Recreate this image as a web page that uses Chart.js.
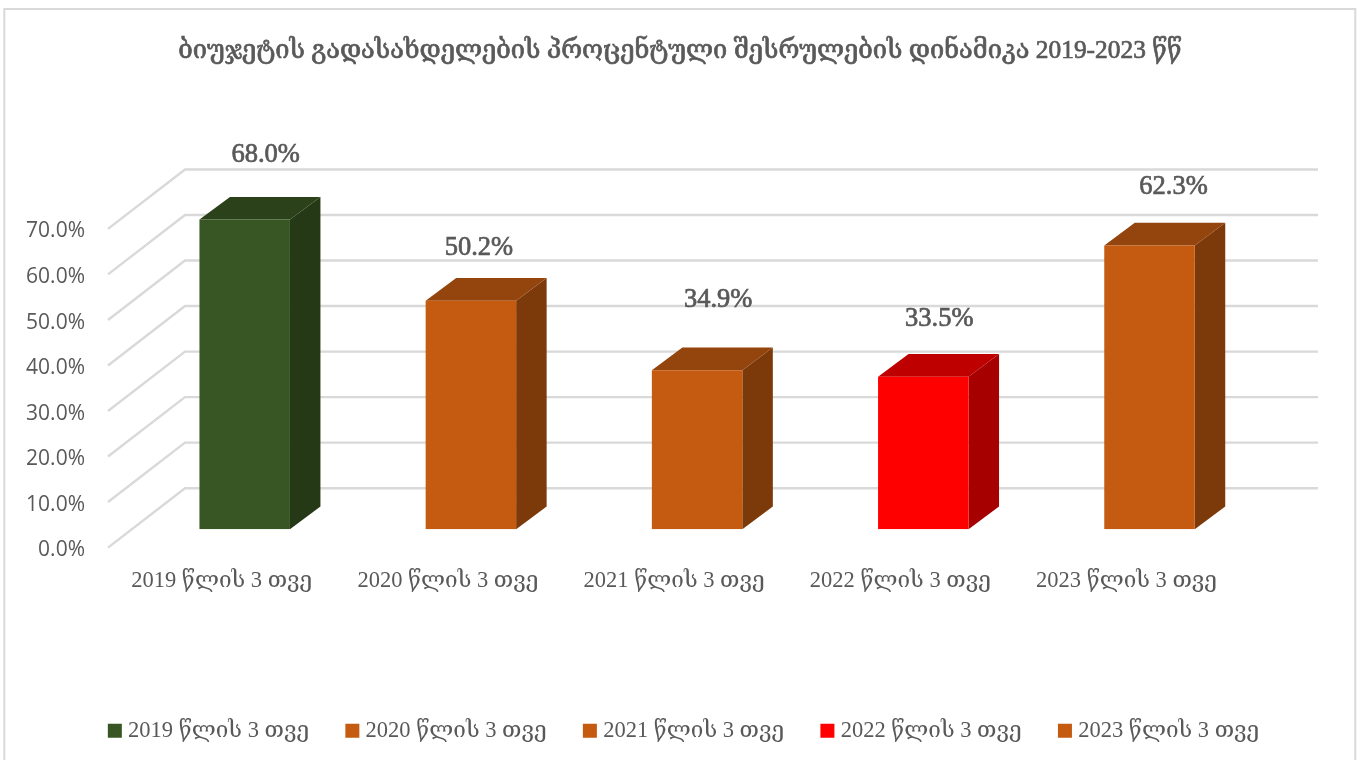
<!DOCTYPE html>
<html>
<head>
<meta charset="utf-8">
<script src="https://cdn.jsdelivr.net/npm/chart.js@4"></script>
<style>
  html, body { margin: 0; padding: 0; background: #fff; }
  #wrap { width: 1360px; height: 760px; position: relative; }
</style>
</head>
<body>
<div id="wrap"><canvas id="chart" width="1360" height="760"></canvas></div>
<script>
const titleText = 'ბიუჯეტის გადასახდელების პროცენტული შესრულების დინამიკა 2019-2023 წწ';
const categories = ['2019 წლის 3 თვე', '2020 წლის 3 თვე', '2021 წლის 3 თვე', '2022 წლის 3 თვე', '2023 წლის 3 თვე'];
const values = [68.0, 50.2, 34.9, 33.5, 62.3];
const frontColors = ['#375623', '#C55A11', '#C55A11', '#FF0000', '#C55A11'];
const topColors = ['#2A4119', '#94440D', '#94440D', '#BF0000', '#94440D'];
const sideColors = ['#253917', '#7C3A0B', '#7C3A0B', '#A60000', '#7C3A0B'];
// hand placed data labels, offset from the front top corner centre
const labelNudgeX = [21, 8, 21, 16, 24];
const labelNudgeY = [-65, -53, -70, -58, -58];

const textColor = '#595959';
const gridColor = '#D9D9D9';
const serif = '"Liberation Serif", "DejaVu Serif", serif';
const titleSize = 25.4;
const titlePadTop = 36;

// fake 3d look: bars sit between the front edge and the back wall
const barDepth = { x: 30.5, y: -22.7 };
const wallBack = { x: 53.4, y: -41 };
const wallFront = { x: -23.6, y: 18.4 };
const wallRight = 1318;

const box3d = {
  id: 'box3d',
  afterLayout(chart) {
    // legend sits a little right of centre in the original
    chart.legend.left += 6;
    chart.legend.right += 6;
  },
  beforeDatasetsDraw(chart) {
    const { ctx, scales: { y } } = chart;
    ctx.save();
    ctx.strokeStyle = gridColor;
    ctx.lineWidth = 2.4;
    y.ticks.forEach(t => {
      const py = y.getPixelForValue(t.value);
      const left = chart.chartArea.left;
      ctx.beginPath();
      ctx.moveTo(left + wallFront.x, py + wallFront.y);
      ctx.lineTo(left + wallBack.x, py + wallBack.y);
      ctx.lineTo(wallRight, py + wallBack.y);
      ctx.stroke();
    });
    ctx.restore();

    // side and top faces of the bars
    chart.getDatasetMeta(0).data.forEach((bar, i) => {
      const l = bar.x - bar.width / 2, r = bar.x + bar.width / 2;
      const t = bar.y, b = bar.base;
      ctx.fillStyle = sideColors[i];
      ctx.beginPath();
      ctx.moveTo(r, t);
      ctx.lineTo(r + barDepth.x, t + barDepth.y);
      ctx.lineTo(r + barDepth.x, b + barDepth.y);
      ctx.lineTo(r, b);
      ctx.closePath();
      ctx.fill();
      ctx.fillStyle = topColors[i];
      ctx.beginPath();
      ctx.moveTo(l, t);
      ctx.lineTo(l + barDepth.x, t + barDepth.y);
      ctx.lineTo(r + barDepth.x, t + barDepth.y);
      ctx.lineTo(r, t);
      ctx.closePath();
      ctx.fill();
    });
  },
  afterDatasetsDraw(chart) {
    const { ctx } = chart;
    ctx.save();
    ctx.fillStyle = textColor;
    ctx.strokeStyle = textColor;
    ctx.lineWidth = 0.7;
    ctx.font = '26.5px ' + serif;
    ctx.textAlign = 'center';
    ctx.textBaseline = 'middle';
    chart.getDatasetMeta(0).data.forEach((bar, i) => {
      const label = values[i].toFixed(1) + '%';
      ctx.fillText(label, bar.x + labelNudgeX[i], bar.y + labelNudgeY[i]);
      ctx.strokeText(label, bar.x + labelNudgeX[i], bar.y + labelNudgeY[i]);
    });
    ctx.restore();
  },
  afterDraw(chart) {
    const { ctx, titleBlock } = chart;
    ctx.save();
    // thicken the title a bit, the normal weight is too light and bold too wide
    ctx.strokeStyle = textColor;
    ctx.lineWidth = 0.7;
    ctx.font = titleSize + 'px ' + serif;
    ctx.textAlign = 'center';
    ctx.textBaseline = 'middle';
    ctx.strokeText(titleText, (titleBlock.left + titleBlock.right) / 2, titleBlock.top + titlePadTop + titleSize * 1.2 / 2);

    ctx.strokeStyle = gridColor;
    ctx.lineWidth = 2;
    ctx.strokeRect(4.3, 9, 1351, 760);
    ctx.restore();
  }
};

new Chart(document.getElementById('chart'), {
  type: 'bar',
  data: {
    labels: categories,
    datasets: [{
      data: values,
      backgroundColor: frontColors,
      categoryPercentage: 1,
      barPercentage: 0.4
    }]
  },
  options: {
    responsive: false,
    animation: false,
    layout: { padding: { bottom: 8 } },
    plugins: {
      tooltip: { enabled: false },
      title: {
        display: true,
        text: titleText,
        color: textColor,
        font: { family: serif, size: titleSize, weight: 'normal' },
        padding: { top: titlePadTop, bottom: 144 }
      },
      legend: {
        position: 'bottom',
        labels: {
          color: textColor,
          font: { family: serif, size: 22.5 },
          // small box with a thick stroke, keeps the text close to the swatch
          boxWidth: 4,
          boxHeight: 4,
          padding: 41.3,
          generateLabels: () => categories.map((c, i) => ({
            text: c,
            fillStyle: frontColors[i],
            strokeStyle: frontColors[i],
            lineWidth: 10,
            fontColor: textColor,
            datasetIndex: 0,
            index: i
          }))
        }
      }
    },
    scales: {
      x: {
        grid: { display: false },
        border: { display: false },
        afterFit: s => { s.height = 149; },
        ticks: {
          color: textColor,
          font: { family: serif, size: 22.5 },
          labelOffset: -23,
          padding: 30,
          maxRotation: 0
        }
      },
      y: {
        min: 0,
        max: 70,
        grid: { display: false, drawTicks: false },
        border: { display: false },
        afterFit: s => { s.width = 131.6; },
        ticks: {
          stepSize: 10,
          color: textColor,
          font: { family: '"Open Sans", sans-serif', size: 21 },
          padding: 46.6,
          labelOffset: 21,
          callback: v => v.toFixed(1) + '%'
        }
      },
      // empty axis, only reserves the room right of the bars so title and legend stay centred
      spacer: {
        position: 'right',
        grid: { display: false, drawTicks: false },
        border: { display: false },
        ticks: { display: false },
        afterFit: s => { s.width = 97.4; }
      }
    }
  },
  plugins: [box3d]
});
</script>
</body>
</html>
